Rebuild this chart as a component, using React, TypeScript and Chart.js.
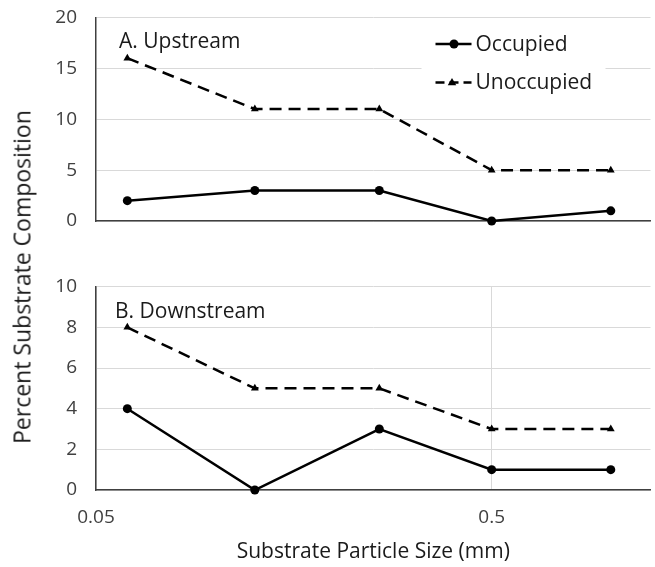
import React, { useEffect, useRef } from "react";
import { Chart, registerables } from "chart.js";

Chart.register(...registerables);

// ---- Data ----
const particleSizes = [0.06, 0.126, 0.26, 0.5, 1.0];
const upstreamOccupied = [2, 3, 3, 0, 1];
const upstreamUnoccupied = [16, 11, 11, 5, 5];
const downstreamOccupied = [4, 0, 3, 1, 1];
const downstreamUnoccupied = [8, 5, 5, 3, 3];
const seriesNames = ["Occupied", "Unoccupied"];
const panelTitles = ["A. Upstream", "B. Downstream"];
const xTickValues = [0.05, 0.5];
const xRange = [0.05, 1.26];
const upstreamYTicks = [0, 5, 10, 15, 20];
const downstreamYTicks = [0, 2, 4, 6, 8, 10];
const xAxisTitle = "Substrate Particle Size (mm)";
const yAxisTitle = "Percent Substrate Composition";

const FONT = "'Open Sans', sans-serif";
const TEXT = "#1a1a1a";
const TICK = "#404040";
const GRID = "#d9d9d9";
const AXIS = "#404040";

function makeDatasets(occ: number[], unocc: number[]) {
  return [
    {
      label: seriesNames[0],
      data: particleSizes.map((x, i) => ({ x, y: occ[i] })),
      borderColor: "#000",
      backgroundColor: "#000",
      borderWidth: 2.5,
      pointStyle: "circle",
      pointRadius: 4.5,
      pointBorderWidth: 0,
      pointBackgroundColor: "#000",
      tension: 0,
      clip: false as any,
    },
    {
      label: seriesNames[1],
      data: particleSizes.map((x, i) => ({ x, y: unocc[i] })),
      borderColor: "#000",
      backgroundColor: "#000",
      borderWidth: 2.5,
      borderDash: [12, 7],
      pointStyle: "triangle",
      pointRadius: 4.5,
      pointBorderWidth: 0,
      pointBackgroundColor: "#000",
      tension: 0,
      clip: false as any,
    },
  ];
}

const panelLabelPlugin = {
  id: "panelLabel",
  afterDraw(chart: any, _args: any, opts: any) {
    const { ctx, chartArea } = chart;
    ctx.save();
    ctx.font = `21px ${FONT}`;
    ctx.fillStyle = TEXT;
    ctx.textBaseline = "middle";
    ctx.textAlign = "left";
    ctx.fillText(opts.text, chartArea.left + opts.dx, chartArea.top + opts.dy);
    ctx.restore();
  },
};

const insideLegendPlugin = {
  id: "insideLegend",
  beforeDatasetsDraw(chart: any, _args: any, opts: any) {
    if (!opts || !opts.show) return;
    const { ctx, chartArea } = chart;
    const r = chartArea.right;
    const t = chartArea.top;
    ctx.save();
    ctx.fillStyle = "#fff";
    ctx.fillRect(r - 229, t + 8, 184, 80);
    const rows = [t + 26.5, t + 65];
    chart.data.datasets.forEach((ds: any, i: number) => {
      const y = rows[i];
      const x0 = r - 215;
      const x1 = r - 179;
      ctx.strokeStyle = "#000";
      ctx.lineWidth = 2.5;
      ctx.setLineDash(ds.borderDash ? [9, 5] : []);
      ctx.beginPath();
      ctx.moveTo(x0, y);
      ctx.lineTo(x1, y);
      ctx.stroke();
      ctx.setLineDash([]);
      ctx.fillStyle = "#000";
      const cx = (x0 + x1) / 2 + (ds.borderDash ? -1.5 : 0.5);
      if (ds.pointStyle === "triangle") {
        const s = 4.5;
        ctx.beginPath();
        ctx.moveTo(cx, y - s);
        ctx.lineTo(cx + s * 0.95, y + s * 0.6);
        ctx.lineTo(cx - s * 0.95, y + s * 0.6);
        ctx.closePath();
        ctx.fill();
      } else {
        ctx.beginPath();
        ctx.arc(cx, y, 4.5, 0, Math.PI * 2);
        ctx.fill();
      }
      ctx.font = `21px ${FONT}`;
      ctx.fillStyle = TEXT;
      ctx.textBaseline = "middle";
      ctx.textAlign = "left";
      ctx.fillText(ds.label, r - 175, y + 1);
    });
    ctx.restore();
  },
};

function buildConfig(opts: {
  occ: number[];
  unocc: number[];
  yTicks: number[];
  title: string;
  labelDx: number;
  labelDy: number;
  bottom: boolean;
  legend: boolean;
  padding: any;
}): any {
  const yMin = opts.yTicks[0];
  const yMax = opts.yTicks[opts.yTicks.length - 1];
  return {
    type: "line",
    data: { datasets: makeDatasets(opts.occ, opts.unocc) },
    plugins: [panelLabelPlugin, insideLegendPlugin],
    options: {
      responsive: false,
      animation: false,
      events: [],
      layout: { padding: opts.padding },
      plugins: {
        legend: { display: false },
        tooltip: { enabled: false },
        title: { display: false },
        panelLabel: { text: opts.title, dx: opts.labelDx, dy: opts.labelDy },
        insideLegend: { show: opts.legend },
      },
      scales: {
        x: {
          type: "logarithmic",
          min: xRange[0],
          max: xRange[1],
          afterBuildTicks: (s: any) => {
            s.ticks = xTickValues.map((v) => ({ value: v }));
          },
          afterFit: (s: any) => {
            if (opts.bottom) s.height = 77;
          },
          ticks: {
            display: opts.bottom,
            autoSkip: false,
            maxRotation: 0,
            padding: 16,
            color: TICK,
            font: { family: FONT, size: 19 },
            callback: (v: any) => String(v),
          },
          grid: {
            display: opts.bottom,
            color: GRID,
            lineWidth: 1,
            drawTicks: false,
          },
          border: { display: true, color: AXIS, width: 1.5 },
          title: {
            display: opts.bottom,
            text: xAxisTitle,
            color: TEXT,
            font: { family: FONT, size: 21 },
            padding: { top: 9, bottom: 2 },
          },
        },
        y: {
          type: "linear",
          min: yMin,
          max: yMax,
          afterBuildTicks: (s: any) => {
            s.ticks = opts.yTicks.map((v) => ({ value: v }));
          },
          afterFit: (s: any) => {
            s.width = 96;
          },
          ticks: {
            padding: 3,
            color: TICK,
            font: { family: FONT, size: 19 },
          },
          grid: {
            color: GRID,
            lineWidth: 1,
            drawTicks: true,
            tickLength: 16,
            tickColor: "rgba(0,0,0,0)",
          },
          border: { display: true, color: AXIS, width: 1.5 },
        },
      },
    },
  };
}

function Panel(props: { top: number; height: number; config: any }) {
  const ref = useRef<HTMLCanvasElement>(null);
  useEffect(() => {
    if (!ref.current) return;
    const chart = new Chart(ref.current, props.config);
    return () => chart.destroy();
  }, []);
  return (
    <canvas
      ref={ref}
      width={655}
      height={props.height}
      style={{ position: "absolute", left: 0, top: props.top, width: 655, height: props.height }}
    />
  );
}

export default function App() {
  const topCfg = buildConfig({
    occ: upstreamOccupied,
    unocc: upstreamUnoccupied,
    yTicks: upstreamYTicks,
    title: panelTitles[0],
    labelDx: 23,
    labelDy: 24.5,
    bottom: false,
    legend: true,
    padding: { left: 0, right: 3, top: 17.5, bottom: 19 },
  });
  const bottomCfg = buildConfig({
    occ: downstreamOccupied,
    unocc: downstreamUnoccupied,
    yTicks: downstreamYTicks,
    title: panelTitles[1],
    labelDx: 19,
    labelDy: 25,
    bottom: true,
    legend: false,
    padding: { left: 0, right: 3, top: 46.7, bottom: 0 },
  });
  return (
    <div
      style={{
        position: "fixed",
        left: 0,
        top: 0,
        width: 655,
        height: 567,
        background: "#fff",
        overflow: "hidden",
      }}
    >
      <Panel top={0} height={240} config={topCfg} />
      <Panel top={240} height={327} config={bottomCfg} />
      <div
        style={{
          position: "absolute",
          left: 22,
          top: 276.7,
          transform: "translate(-50%, -50%) rotate(-90deg)",
          whiteSpace: "nowrap",
          fontFamily: FONT,
          fontSize: 23,
          color: TEXT,
          lineHeight: 1,
        }}
      >
        {yAxisTitle}
      </div>
    </div>
  );
}
